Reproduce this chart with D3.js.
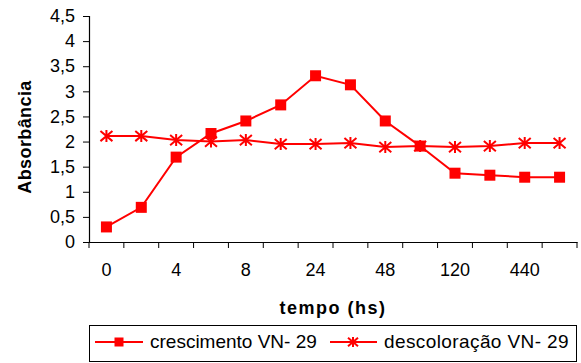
<!DOCTYPE html>
<html>
<head>
<meta charset="utf-8">
<script src="https://cdn.jsdelivr.net/npm/d3@7"></script>
<style>
  body { margin: 0; background: #fff; }
  text { font-family: "Liberation Sans", Arial, sans-serif; fill: #000; }
</style>
</head>
<body>
<script>
// tempo (hs) - only every other category gets a label on the axis
var categories = ["0", "2", "4", "6", "8", "12", "24", "36", "48", "72", "120", "240", "440", "480"];
var crescimento = [0.30, 0.69, 1.69, 2.16, 2.41, 2.73, 3.31, 3.13, 2.41, 1.91, 1.37, 1.33, 1.29, 1.29];
var descoloracao = [2.11, 2.11, 2.03, 2.00, 2.03, 1.95, 1.95, 1.97, 1.89, 1.91, 1.89, 1.91, 1.97, 1.97];
var yTicks = [0, 0.5, 1, 1.5, 2, 2.5, 3, 3.5, 4, 4.5];
var seriesNames = ["crescimento VN- 29", "descoloração VN- 29"];

var w = 581, h = 363;
var plotLeft = 89, plotRight = 577, plotTop = 16, plotBottom = 242;
var red = "#ff0000";

var svg = d3.select("body")
            .append("svg")
            .attr("width", w)
            .attr("height", h);

var ptBR = d3.formatLocale({decimal: ",", thousands: ".", grouping: [3], currency: ["R$", ""]});
var fmt = ptBR.format(".1~f");

var xScale = d3.scaleBand()
               .domain(d3.range(categories.length))
               .range([plotLeft, plotRight]);

var yScale = d3.scaleLinear()
               .domain([0, 4.5])
               .range([plotBottom, plotTop]);

// y axis
var yAxis = d3.axisLeft(yScale)
              .tickValues(yTicks)
              .tickSize(6)
              .tickPadding(8)
              .tickFormat(fmt);

var gy = svg.append("g")
            .attr("transform", "translate(" + plotLeft + ",0)")
            .call(yAxis);
gy.select(".domain").attr("stroke", "#000").attr("stroke-width", 1.2);
gy.selectAll(".tick line").attr("stroke", "#000");
gy.selectAll(".tick text")
  .style("font-size", "18px")
  .attr("font-family", null);

// x axis: labels every other category, ticks on band edges
var xAxis = d3.axisBottom(xScale)
              .tickSize(0)
              .tickPadding(21)
              .tickFormat(i => i % 2 == 0 ? categories[i] : "");

var gx = svg.append("g")
            .attr("transform", "translate(0," + plotBottom + ")")
            .call(xAxis);
gx.select(".domain").attr("stroke", "#000").attr("stroke-width", 1.2);
gx.selectAll(".tick text")
  .style("font-size", "18px")
  .attr("font-family", null);

var edges = d3.range(categories.length + 1).map(i => plotLeft + i * xScale.bandwidth());
gx.selectAll(".edge")
  .data(edges)
  .enter()
  .append("line")
  .attr("class", "edge")
  .attr("x1", d => d)
  .attr("x2", d => d)
  .attr("y1", 0)
  .attr("y2", 6)
  .attr("stroke", "#000");

// axis titles
svg.append("text")
   .attr("x", 333)
   .attr("y", 314)
   .attr("text-anchor", "middle")
   .style("font-size", "18px")
   .style("font-weight", "bold")
   .style("letter-spacing", "1.5px")
   .text("tempo (hs)");

svg.append("text")
   .attr("transform", "translate(31,137) rotate(-90)")
   .attr("text-anchor", "middle")
   .style("font-size", "18px")
   .style("font-weight", "bold")
   .style("letter-spacing", "0.4px")
   .text("Absorbância");

var cx = i => xScale(i) + xScale.bandwidth() / 2;

var line = d3.line()
             .x((d, i) => cx(i))
             .y(d => yScale(d));

var star = function(s) {
    return "M0," + (-s) + "V" + s +
           "M" + (-s) + "," + (-s * 0.85) + "L" + s + "," + (s * 0.85) +
           "M" + (-s) + "," + (s * 0.85) + "L" + s + "," + (-s * 0.85);
};

// descoloração
svg.append("path")
   .datum(descoloracao)
   .attr("d", line)
   .attr("fill", "none")
   .attr("stroke", red)
   .attr("stroke-width", 2);

svg.append("g")
   .selectAll("path")
   .data(descoloracao)
   .enter()
   .append("path")
   .attr("transform", (d, i) => "translate(" + cx(i) + "," + yScale(d) + ")")
   .attr("d", star(6))
   .attr("fill", "none")
   .attr("stroke", red)
   .attr("stroke-width", 2);

// crescimento
svg.append("path")
   .datum(crescimento)
   .attr("d", line)
   .attr("fill", "none")
   .attr("stroke", red)
   .attr("stroke-width", 2);

svg.append("g")
   .selectAll("rect")
   .data(crescimento)
   .enter()
   .append("rect")
   .attr("x", (d, i) => cx(i) - 5.5)
   .attr("y", d => yScale(d) - 5.5)
   .attr("width", 11)
   .attr("height", 11)
   .attr("fill", red);

// legend
var legend = svg.append("g");
legend.append("rect")
      .attr("x", 89.5)
      .attr("y", 325.5)
      .attr("width", 487)
      .attr("height", 36)
      .attr("fill", "#fff")
      .attr("stroke", "#000");

var ly = 342;
legend.append("line")
      .attr("x1", 95).attr("x2", 143)
      .attr("y1", ly).attr("y2", ly)
      .attr("stroke", red).attr("stroke-width", 2);
legend.append("rect")
      .attr("x", 114.5).attr("y", ly - 4.5)
      .attr("width", 9).attr("height", 9)
      .attr("fill", red);
legend.append("text")
      .attr("x", 150).attr("y", ly + 5.5)
      .style("font-size", "19px")
      .text(seriesNames[0]);

legend.append("line")
      .attr("x1", 330).attr("x2", 377)
      .attr("y1", ly).attr("y2", ly)
      .attr("stroke", red).attr("stroke-width", 2);
legend.append("path")
      .attr("transform", "translate(353," + ly + ")")
      .attr("d", star(5))
      .attr("fill", "none")
      .attr("stroke", red)
      .attr("stroke-width", 2);
legend.append("text")
      .attr("x", 384).attr("y", ly + 5.5)
      .style("font-size", "19px")
      .style("letter-spacing", "0.4px")
      .text(seriesNames[1]);
</script>
</body>
</html>
